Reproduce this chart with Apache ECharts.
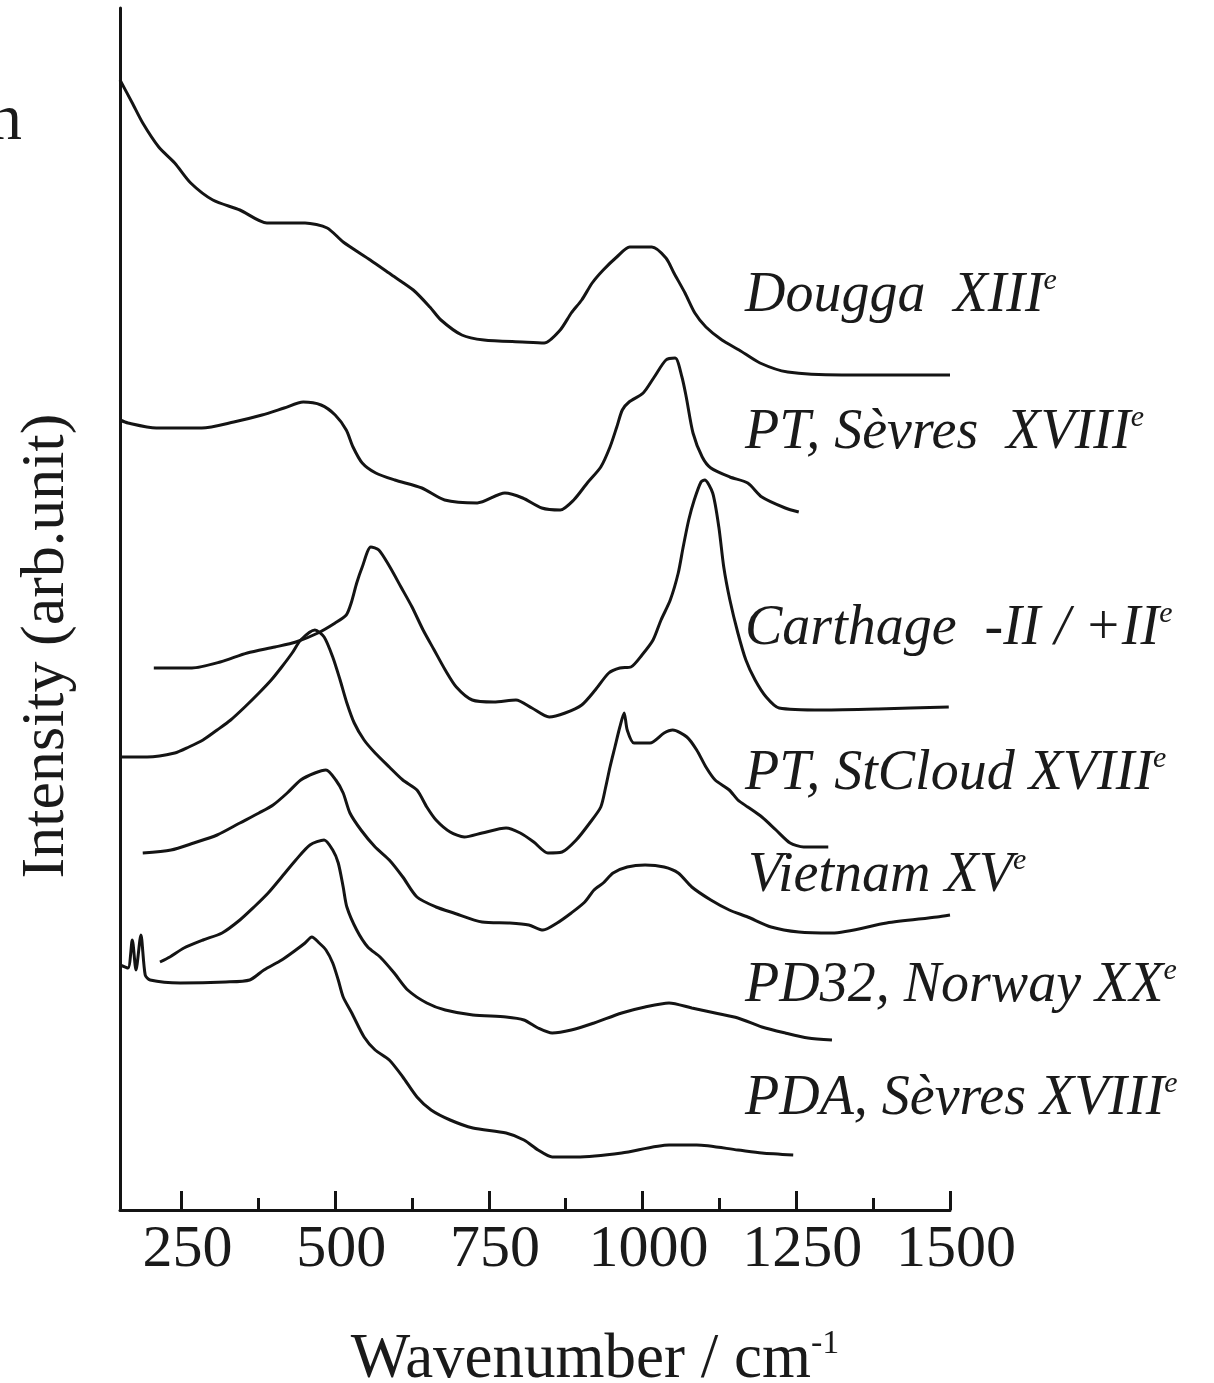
<!DOCTYPE html>
<html>
<head>
<meta charset="utf-8">
<script src="https://cdn.jsdelivr.net/npm/echarts@6/dist/echarts.min.js"></script>
<style>html,body{margin:0;padding:0;background:#fff}#c{width:1214px;height:1383px}</style>
</head>
<body>
<div id="c"></div>
<script>
// ---- data (wavenumber / cm-1, intensity in arbitrary offset units) ----
const xTickLabels = [250, 500, 750, 1000, 1250, 1500];
const xMinorTicks = [375, 625, 875, 1125, 1375];

const seriesNames = ['Dougga  XIII', 'PT, Sèvres  XVIII', 'Carthage  -II / +II', 'PT, StCloud XVIII', 'Vietnam XV', 'PD32, Norway XX', 'PDA, Sèvres XVIII'];

const wnDougga  = [150,170,187,213,239,265,301,345,389,451,487,513,557,592,627,654,672,706,742,804,840,866,884,901,918,936,958,979,1015,1038,1051,1069,1085,1103,1129,1157,1191,1236,1324,1500];
const intDougga = [1130,1107,1087,1063,1047,1027,1010,1000,987,987,982,968,950,935,920,903,890,875,870,868,867,880,897,910,927,940,953,963,963,952,937,917,897,883,870,860,847,838,835,835];

const wnSevres  = [150,163,209,283,335,381,417,448,477,500,518,529,544,566,597,641,678,731,776,805,836,866,888,910,932,947,958,967,978,1001,1019,1038,1053,1064,1071,1082,1097,1111,1142,1171,1194,1232,1254];
const intSevres = [790,787,782,782,788,795,802,808,805,795,780,763,747,737,730,722,710,707,717,712,702,700,710,727,743,763,783,800,808,817,833,850,852,833,813,777,753,742,733,727,713,702,698];

const wnCarthage  = [205,267,313,357,402,436,472,500,518,526,535,544,558,571,589,607,625,643,661,679,697,723,758,794,820,848,874,901,923,945,963,981,999,1017,1030,1045,1058,1066,1075,1084,1095,1101,1114,1124,1132,1142,1155,1168,1183,1201,1222,1293,1383,1498];
const intCarthage = [542,542,548,557,563,568,577,587,595,607,627,643,663,660,643,623,603,580,560,540,523,510,508,510,502,493,497,505,520,537,542,543,555,570,590,610,637,663,690,710,728,730,717,683,643,610,577,550,530,513,502,500,501,503];

const wnStCloud  = [150,194,239,262,285,308,330,353,376,396,413,430,444,467,482,496,508,519,531,547,565,588,610,633,649,664,687,710,739,778,801,823,846,869,892,914,932,940,947,955,963,970,975,986,1012,1035,1049,1072,1088,1103,1118,1141,1155,1171,1194,1217,1240,1262,1302];
const intStCloud = [453,453,457,463,470,480,490,503,517,530,543,557,570,580,573,553,530,507,487,470,457,443,430,420,403,390,378,373,377,382,377,368,357,358,370,387,403,423,443,463,483,497,480,467,467,477,480,473,460,443,430,420,410,403,393,380,367,363,363];

const wnVietnam  = [187,233,270,308,345,376,399,422,444,467,485,501,513,524,542,565,588,610,633,664,693,739,784,815,838,861,884,906,921,936,952,975,1004,1035,1058,1080,1111,1141,1171,1209,1254,1308,1397,1479,1500];
const intVietnam = [357,360,367,375,387,397,405,417,430,437,440,430,417,397,380,363,350,333,313,303,297,288,287,285,280,287,297,308,320,327,337,343,345,343,337,323,310,300,293,283,278,277,287,293,295];

const wnNorway  = [215,231,254,285,316,345,368,391,413,436,459,482,496,505,513,519,535,553,573,596,618,649,679,724,778,807,830,853,884,921,966,1004,1043,1080,1118,1155,1194,1232,1269,1308];
const intNorway = [248,253,262,270,277,290,303,317,333,350,365,370,360,347,323,303,280,263,253,237,220,207,200,195,193,190,182,177,180,187,197,203,207,202,197,192,183,177,172,170];

const wnPDA  = [150,163,170,176,184,191,199,248,322,361,384,413,436,451,462,474,485,496,505,513,527,547,565,588,610,633,656,687,724,778,807,830,853,892,966,1043,1088,1155,1194,1245];
const intPDA = [245,242,270,240,275,235,230,227,228,230,240,250,260,267,273,267,260,247,230,213,197,173,160,150,133,113,100,90,82,77,70,60,53,53,57,65,65,60,57,55];

const allWn  = [wnDougga, wnSevres, wnCarthage, wnStCloud, wnVietnam, wnNorway, wnPDA];
const allInt = [intDougga, intSevres, intCarthage, intStCloud, intVietnam, intNorway, intPDA];

// ---- chart ----
const serif = "'Liberation Serif','Times New Roman',serif";
const chart = echarts.init(document.getElementById('c'), null, {renderer: 'canvas'});

const series = allWn.map((wn, i) => ({
  type: 'line',
  name: seriesNames[i],
  data: wn.map((w, j) => [w, allInt[i][j]]),
  showSymbol: false,
  smooth: 0.25,
  lineStyle: {color: '#141414', width: 3},
  silent: true,
  animation: false,
  xAxisIndex: 0
}));

// label positions (layout only)
const labelPos = [[745, 296], [745, 433], [745, 629], [745, 774], [748, 876], [745, 986], [745, 1099]];

const labelGraphics = seriesNames.map((n, i) => ({
  type: 'text',
  x: labelPos[i][0],
  y: labelPos[i][1],
  style: {
    text: '{m|' + n + '}{s|e}',
    verticalAlign: 'middle',
    align: 'left',
    rich: {
      m: {fontFamily: serif, fontStyle: 'italic', fontSize: 56, fill: '#1a1a1a', lineHeight: 60},
      s: {fontFamily: serif, fontStyle: 'italic', fontSize: 30, fill: '#1a1a1a', lineHeight: 26, verticalAlign: 'top'}
    }
  },
  silent: true
}));

const option = {
  backgroundColor: '#ffffff',
  animation: false,
  grid: {left: 120, top: 8, right: 264, bottom: 173, containLabel: false},
  xAxis: [{
    type: 'value', min: 150, max: 1500,
    axisLine: {show: true, onZero: false, lineStyle: {color: '#141414', width: 3}},
    axisTick: {show: true, inside: true, length: 19, customValues: xTickLabels, lineStyle: {color: '#141414', width: 3}},
    axisLabel: {show: true, customValues: xTickLabels, formatter: (v) => String(v), fontFamily: serif, fontSize: 60, color: '#1a1a1a', margin: 10, padding: [0, 0, 0, 12]},
    splitLine: {show: false}
  }, {
    type: 'value', min: 150, max: 1500, position: 'bottom',
    axisLine: {show: false},
    axisTick: {show: true, inside: true, length: 12, customValues: xMinorTicks, lineStyle: {color: '#141414', width: 3}},
    axisLabel: {show: false},
    splitLine: {show: false}
  }],
  yAxis: {
    type: 'value', min: 0, max: 1202,
    axisLine: {show: true, onZero: false, lineStyle: {color: '#141414', width: 3}},
    axisTick: {show: false}, axisLabel: {show: false}, splitLine: {show: false}
  },
  series: series,
  graphic: [
    ...labelGraphics,
    {
      type: 'text', x: 47, y: 646, rotation: Math.PI / 2,
      style: {text: 'Intensity (arb.unit)', fontFamily: serif, fontSize: 62, fill: '#1a1a1a', align: 'center', verticalAlign: 'middle'},
      silent: true
    },
    {
      type: 'text', x: 595, y: 1360,
      style: {
        text: '{a|Wavenumber / cm}{s|-1}', align: 'center', verticalAlign: 'middle',
        rich: {
          a: {fontFamily: serif, fontSize: 63, fill: '#1a1a1a', lineHeight: 66},
          s: {fontFamily: serif, fontSize: 34, fill: '#1a1a1a', lineHeight: 30, verticalAlign: 'top'}
        }
      },
      silent: true
    },
    {
      type: 'text', x: 22, y: 122,
      style: {text: 'n', fontFamily: serif, fontSize: 66, fill: '#1a1a1a', align: 'right', verticalAlign: 'middle'},
      silent: true
    }
  ]
};
chart.setOption(option);
</script>
</body>
</html>
